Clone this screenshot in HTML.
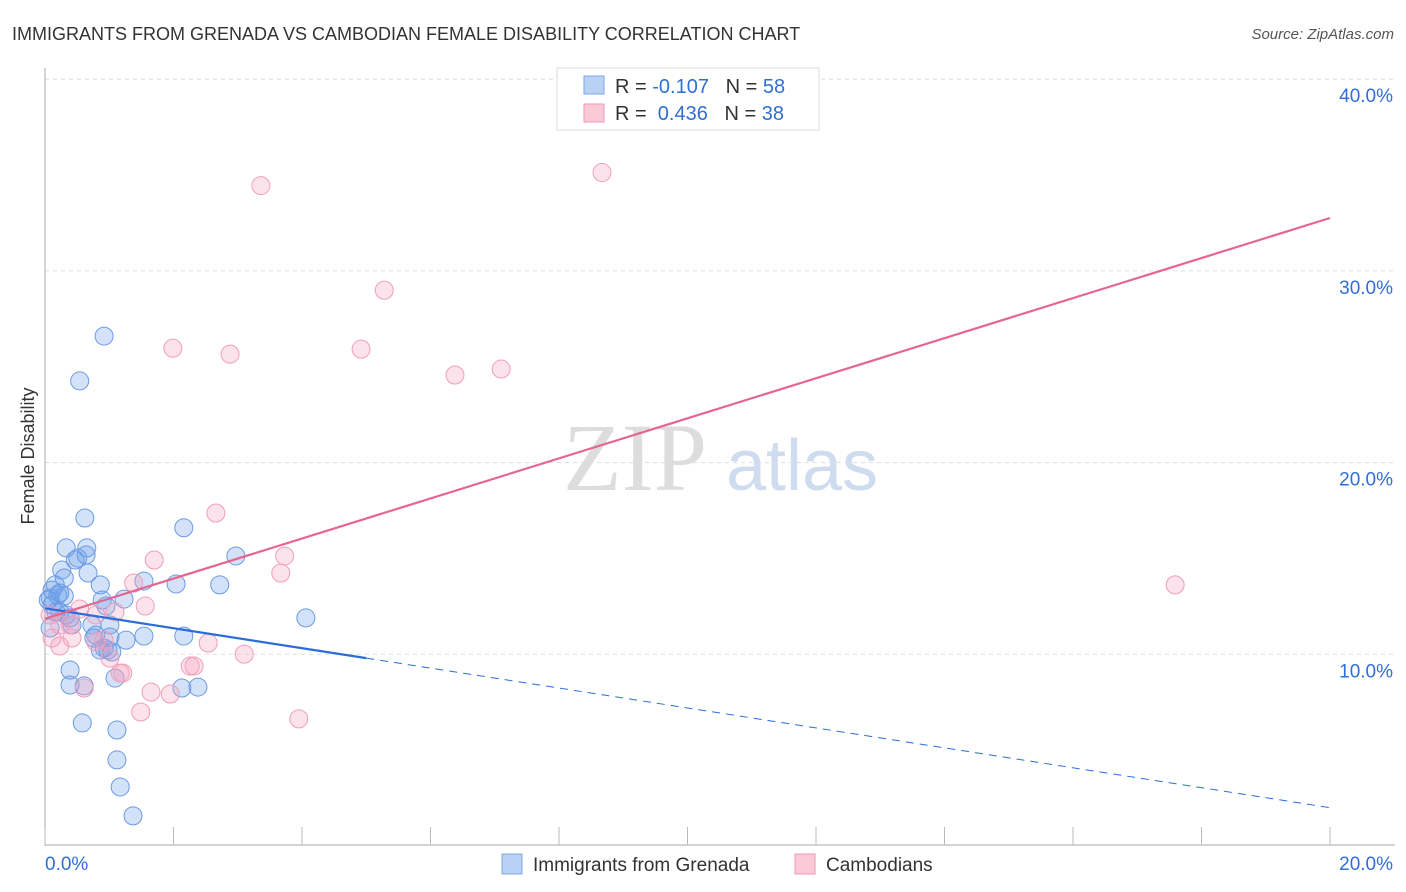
<!DOCTYPE html>
<html><head><meta charset="utf-8"><style>
body{margin:0;background:#fff;font-family:"Liberation Sans",sans-serif;}
svg{display:block}
</style></head><body>
<svg id="c" width="1406" height="892">
<text x="12" y="40" font-size="18" fill="#333">IMMIGRANTS FROM GRENADA VS CAMBODIAN FEMALE DISABILITY CORRELATION CHART</text>
<text x="1394" y="39" font-size="15" fill="#555" font-style="italic" text-anchor="end">Source: ZipAtlas.com</text>
<text x="0" y="0" transform="translate(34,456) rotate(-90)" font-size="18" fill="#333" text-anchor="middle">Female Disability</text>
<text x="635" y="490" font-size="96" fill="#ddd" font-family="Liberation Serif,serif" text-anchor="middle">ZIP</text>
<text x="802" y="490" font-size="72" fill="#cfdcf0" text-anchor="middle">atlas</text>
<g id="grid"></g><g id="axes"></g><g id="pts"></g><g id="lines"></g>
<g>
<rect x="557" y="68" width="262" height="62" fill="#fff" stroke="#ddd"/>
<rect x="584" y="76" width="20" height="18" fill="#b9d1f5" stroke="#7ea6e6"/>
<rect x="584" y="104" width="20" height="18" fill="#fbc9d7" stroke="#ef9ab5"/>
<text x="615" y="93" font-size="20" fill="#333">R = <tspan fill="#2f6fd6">-0.107</tspan>&#160;&#160;&#160;N = <tspan fill="#2f6fd6">58</tspan></text>
<text x="615" y="120" font-size="20" fill="#333">R = &#160;<tspan fill="#2f6fd6">0.436</tspan>&#160;&#160;&#160;N = <tspan fill="#2f6fd6">38</tspan></text>
</g>
<g>
<rect x="502" y="854" width="20" height="20" fill="#b9d1f5" stroke="#7ea6e6"/>
<text x="533" y="871" font-size="19" fill="#333">Immigrants from Grenada</text>
<rect x="795" y="854" width="20" height="20" fill="#fbc9d7" stroke="#ef9ab5"/>
<text x="826" y="871" font-size="19" fill="#333">Cambodians</text>
</g>
</svg>
<script>
const NS="http://www.w3.org/2000/svg";
const xTicks=[0,2,4,6,8,10,12,14,16,18,20];
const yTicks=[10,20,30,40];
const blueX=[0.11,0.16,0.08,0.2,0.26,0.33,0.3,0.23,0.39,0.47,0.51,0.65,0.64,0.67,0.62,0.54,0.92,0.86,0.89,0.95,1.01,0.73,0.79,0.86,0.98,1.04,1.26,1.23,1.54,1.54,2.04,2.16,2.16,2.72,2.97,4.06,0.39,0.39,0.61,1.09,0.58,1.12,1.12,1.17,1.37,2.13,2.38,0.11,0.17,0.33,0.42,0.05,0.76,1.01,0.23,0.92,0.3,0.08];
const blueY=[12.57,13.62,12.94,13.09,14.4,15.55,13.98,12.21,11.9,14.92,15.02,15.55,15.18,14.24,17.11,24.26,26.6,13.62,12.83,12.52,11.53,11.53,11.0,10.22,10.22,10.12,10.74,12.88,13.82,10.95,13.67,16.6,10.95,13.62,15.13,11.9,9.18,8.4,8.35,8.76,6.42,6.05,4.49,3.08,1.57,8.24,8.29,13.35,12.21,12.05,11.53,12.83,10.85,10.9,13.2,10.33,13.04,11.37];
const pinkX=[3.36,8.67,5.28,1.99,2.88,4.92,6.38,7.1,2.66,1.7,3.73,3.67,1.38,1.56,1.09,17.59,0.23,0.11,0.23,0.42,0.54,0.79,0.92,2.54,3.1,2.26,2.32,1.21,1.17,0.61,1.65,1.95,1.49,3.95,0.08,1.01,0.39,0.79];
const pinkY=[34.45,35.13,28.99,25.97,25.66,25.92,24.57,24.88,17.37,14.92,15.13,14.24,13.72,12.52,12.21,13.62,11.53,10.85,10.43,10.85,12.36,10.64,10.74,10.59,10.01,9.39,9.39,9.02,9.02,8.24,8.03,7.93,6.99,6.63,12.05,9.8,11.53,12.05];
const blueFit=[12.4,-0.52,5.0];
const pinkFit=[11.86,1.045];
const X=v=>45+v*64.25, Y=v=>846-v*19.17;
function mk(t,a,p){const e=document.createElementNS(NS,t);for(const k in a)e.setAttribute(k,a[k]);p.appendChild(e);return e;}
const grid=document.getElementById('grid'),axes=document.getElementById('axes'),pts=document.getElementById('pts'),lines=document.getElementById('lines');
yTicks.forEach(v=>{
 const l=mk('line',{x1:45,x2:1395,y1:Y(v),y2:Y(v),stroke:'#ddd','stroke-dasharray':'4 4'},grid);
 
 
 const t=mk('text',{x:1393,y:Y(v)+23,'font-size':19,fill:'#2f6fd6','text-anchor':'end'},grid);t.textContent=v.toFixed(1)+'%';
 
 
});
const ax=mk('line',{x1:45,x2:45,y1:68,y2:846,stroke:'#aaa'},axes);


const bx=mk('line',{x1:45,x2:1395,y1:845,y2:845,stroke:'#aaa'},axes);


xTicks.forEach(v=>{
 const l=mk('line',{x1:X(v),x2:X(v),y1:827,y2:845,stroke:'#bbb'},axes);
 
 
});
[[0,'start',45],[20,'end',1393]].forEach(([v,a,x])=>{
 const t=mk('text',{x:x,y:870,'font-size':19,fill:'#2f6fd6','text-anchor':a},axes);t.textContent=v.toFixed(1)+'%';
 
 
});
blueX.forEach((x,i)=>{
 const c=mk('circle',{cx:X(x),cy:Y(blueY[i]),r:9,fill:'rgba(110,160,235,0.3)',stroke:'#6b9be3','stroke-width':1},pts);
 
 
});
pinkX.forEach((x,i)=>{
 const c=mk('circle',{cx:X(x),cy:Y(pinkY[i]),r:9,fill:'rgba(245,160,190,0.3)',stroke:'#ef9fb9','stroke-width':1},pts);
 
 
});
const bf=x=>blueFit[0]+blueFit[1]*x, pf=x=>pinkFit[0]+pinkFit[1]*x;
const l1=mk('line',{x1:X(0),y1:Y(bf(0)),x2:X(blueFit[2]),y2:Y(bf(blueFit[2])),stroke:'#2a6dd9','stroke-width':2.2},lines);


const l2=mk('line',{x1:X(blueFit[2]),y1:Y(bf(blueFit[2])),x2:X(20),y2:Y(bf(20)),stroke:'#2a6dd9','stroke-width':1,'stroke-dasharray':'8 6'},lines);


const l3=mk('line',{x1:X(0),y1:Y(pf(0)),x2:X(20),y2:Y(pf(20)),stroke:'#e5668f','stroke-width':2.2},lines);


</script>
</body></html>
